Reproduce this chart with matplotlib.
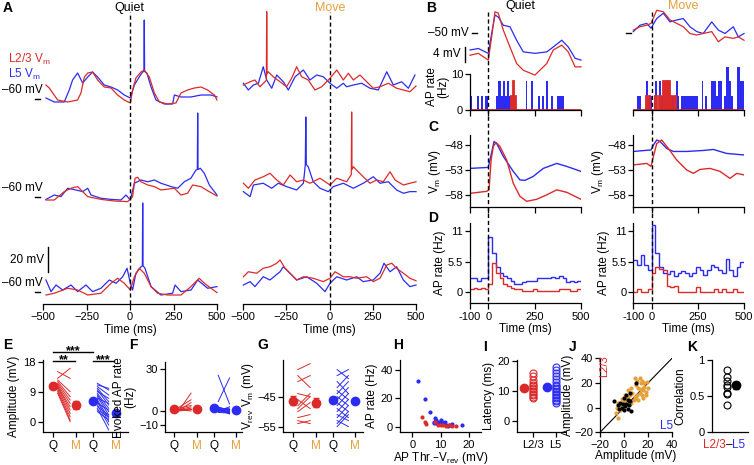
import numpy as np
import matplotlib
matplotlib.use('Agg')
import matplotlib.pyplot as plt
from matplotlib.lines import Line2D
import matplotlib.transforms as mtrans

plt.rcParams['font.family'] = ['Liberation Sans', 'DejaVu Sans']
plt.rcParams['mathtext.default'] = 'regular'
plt.rcParams['font.size'] = 8
plt.rcParams['axes.linewidth'] = 0.9
plt.rcParams['xtick.major.width'] = 0.9
plt.rcParams['ytick.major.width'] = 0.9
plt.rcParams['xtick.major.size'] = 3.5
plt.rcParams['ytick.major.size'] = 3.5
plt.rcParams['xtick.major.pad'] = 2
plt.rcParams['ytick.major.pad'] = 1.5
plt.rcParams['axes.labelsize'] = 8.5
plt.rcParams['axes.labelpad'] = 2

RED = '#dc2a2a'
BLUE = '#2b2bf2'
ORANGE = '#e5a03a'

# ---------------- Panel A traces (time ms, Vm mV) ----------------
q1_red_t = [-483,-464,-444,-416,-358,-301,-282,-262,-243,-215,-186,-148,-109,-71,-33,2,15,34,63,82,111,140,169,216,264,293,331,370,408,446,485,500]
q1_red_v = [-48.8,-51.2,-55.2,-60.8,-62.4,-60.8,-55.2,-42.4,-39.2,-38.4,-44.8,-50.4,-51.2,-56.8,-60.8,-63.2,-52.8,-43.2,-38.4,-36.8,-42.4,-55.2,-62.4,-64,-63.2,-55.2,-52.8,-51.2,-50.4,-52.8,-56.8,-60.8]
q1_blue_t = [-483,-435,-378,-349,-330,-301,-272,-243,-215,-186,-148,-109,-71,-33,2,25,53,72,80,82,84,97,121,149,197,245,255,293,350,408,466,500]
q1_blue_v = [-59.2,-62.4,-62.4,-52.8,-44.8,-39.2,-47.2,-42.4,-38.4,-42.4,-48.8,-50.4,-52.8,-56.8,-59.2,-48.8,-42.4,-38.4,-38.0,3.2,-38.0,-39.2,-50.4,-60.8,-64,-64,-56.8,-58.4,-58.4,-56.8,-56.8,-58.4]

q2_red_t = [-483,-435,-378,-339,-301,-272,-243,-167,-90,-13,15,29,44,63,102,140,178,255,293,331,360,408,446,500]
q2_red_v = [-62.4,-62.4,-55.7,-53,-51.7,-55.7,-59.7,-61.9,-63.2,-63.7,-59.7,-45,-44.2,-47.8,-50.4,-51.7,-54.4,-53,-58.4,-57,-50.4,-51.7,-55,-59.2]
q2_blue_t = [-483,-435,-397,-358,-310,-272,-243,-224,-167,-109,-52,-23,2,25,63,102,140,178,236,274,312,350,379,387,389,391,404,427,456,485,500]
q2_blue_v = [-61.9,-58.4,-59.7,-53,-54.4,-55.7,-53,-58.4,-61,-61.9,-62.4,-58.4,-62.4,-49,-46.4,-47.8,-46.4,-49,-51.7,-53,-47.8,-45,-38.4,-38,7.2,-38,-37,-41,-50.4,-55.7,-58.4]

q3_red_t = [-483,-435,-358,-301,-243,-167,-109,-71,-33,2,25,53,82,121,159,216,293,350,398,427,466,500]
q3_red_v = [-62.4,-61,-57,-58.4,-62.4,-61,-53,-49,-53,-58.4,-47.8,-41,-45,-55.7,-61,-62.4,-62.4,-55.7,-49,-53,-57,-60.5]
q3_blue_t = [-483,-454,-425,-387,-339,-301,-253,-215,-167,-119,-80,-42,-17,2,15,34,63,71,73,75,86,121,178,245,259,293,351,389,446,500]
q3_blue_v = [-50.4,-59.7,-54.4,-58.4,-54.4,-59.7,-54.4,-59.7,-57,-50.4,-53,-47.8,-41,-53,-58.4,-45,-39.8,-39,11.2,-39,-41,-55.7,-62.4,-61,-54.4,-59.7,-58.4,-50.4,-57,-55.7]

m1_red_t = [-498,-459,-431,-402,-373,-365,-363,-361,-354,-325,-286,-248,-219,-190,-161,-123,-84,-45,3,42,80,109,138,176,215,253,292,340,388,427,465,500]
m1_red_v = [-48.8,-46.2,-44.8,-50.2,-46.2,-45,9.9,-40,-38.2,-42.2,-46.2,-50.2,-43.4,-34.2,-42.2,-44.8,-52.8,-50.2,-43.4,-36.8,-44.8,-39.4,-44.8,-40.8,-46.2,-51.4,-50.2,-47.4,-51.4,-52.8,-54.2,-49.6]
m1_blue_t = [-498,-469,-440,-411,-383,-363,-334,-305,-267,-238,-199,-151,-113,-74,-36,3,42,80,99,138,186,234,282,331,369,417,456,494]
m1_blue_v = [-47.4,-52.8,-48.8,-47.4,-34.2,-44.8,-51.4,-40.8,-46.2,-52.8,-42.2,-36.8,-44.8,-40.8,-42.2,-47.4,-51.4,-47.4,-50.2,-48.8,-47.4,-51.4,-52.8,-38.2,-48.8,-46.2,-51.4,-40.8]

m2_red_t = [-498,-469,-431,-383,-344,-305,-267,-228,-190,-151,-113,-55,3,42,99,118,126,128,130,138,166,195,234,273,311,350,379,427,465,500]
m2_red_v = [-49,-53,-46.4,-43.8,-41,-46.4,-50.4,-42.4,-47.8,-46.4,-49,-45,-50.4,-45,-47.8,-43.8,-42,8,-38,-35.8,-39.8,-43.8,-49,-46.4,-47.8,-39.8,-46.4,-50.4,-49,-47.8]
m2_blue_t = [-498,-459,-440,-383,-334,-296,-248,-190,-151,-144,-140,-137,-134,-123,-94,-55,-7,22,80,138,195,253,292,340,388,427,465,500]
m2_blue_v = [-55.7,-59.7,-50.4,-49,-53,-49,-51.7,-54.4,-49,-40,-34.4,4,-34,-35.8,-47.8,-53,-55.7,-51.7,-49,-53,-49,-43.8,-49,-47.8,-54.4,-57,-55.7,-55.7]

m3_red_t = [-498,-469,-421,-383,-344,-305,-286,-257,-228,-190,-151,-94,-36,3,32,80,118,157,215,253,292,331,360,388,427,465,500]
m3_red_v = [-47.8,-43.8,-45,-41,-39.8,-37,-34.4,-41,-45,-50.4,-47.8,-49,-51.7,-49,-43.8,-47.8,-47.8,-49,-47.8,-51.7,-49,-38.4,-37,-41,-45,-49,-51]
m3_blue_t = [-498,-459,-431,-383,-344,-286,-267,-228,-190,-132,-74,-26,3,42,99,157,195,253,292,315,350,388,427,465,500]
m3_blue_v = [-54.4,-51.7,-55.7,-47.8,-50.4,-43.8,-39.8,-45,-50.4,-47.8,-53,-59.7,-53,-47.8,-50.4,-47.8,-51.7,-50.4,-45,-37,-43.8,-39.8,-50.4,-55.7,-54.4]

# ---------------- Panel B ----------------
bq_t = [-100,-55,-1,17,35,53,80,116,152,188,251,315,350,396,431,468,500]
bq_blue = [-54.5,-54.1,-55.4,-50.1,-45.2,-45.7,-47.9,-48.3,-51.9,-55,-55.4,-55,-53.7,-51.9,-53.7,-56.7,-57.2]
bq_red = [-55.9,-55.4,-57.2,-51,-44.3,-44.7,-49.2,-53.7,-58.1,-59.9,-61.2,-58.1,-54.5,-53.2,-55,-59,-59]
bm_t = [-100,-64,-27,-4,27,63,99,135,171,207,244,279,325,361,397,442,469,500]
bm_blue = [-49.6,-47.9,-47.4,-48.7,-46.1,-44.7,-47,-46.5,-46.1,-48.3,-49.6,-50.1,-47,-49.2,-50.1,-48.3,-51,-50.1]
bm_red = [-49.2,-48.3,-47.9,-47.4,-43.9,-44.3,-46.5,-47.4,-48.3,-50.1,-50.5,-50.1,-49.6,-52.3,-51,-51.4,-51,-51.9]

hist_edges = np.arange(-100, 501, 10)
hq_blue = [4,0,0,0,4,0,4,0,4,4, 0,0,0,0,4,8,8,4,8,4, 8,4,0,0,0,0,0,0,0,0,
           8,0,0,8,0,0,0,4,0,4, 0,8,0,0,4,0,0,4,4,4, 4,0,0,0,0,0,0,0,0,0]
hq_red = [0]*22 + [4,8,4] + [0]*35
hm_blue = [0,0,4,4,0,0,0,8,0,4, 0,4,8,0,8,4,4,8,8,0, 4,4,4,8,4,0,4,4,4,4,
           4,4,4,4,4,0,0,8,0,4, 0,0,8,8,8,4,8,8,0,4, 12,12,8,4,0,0,12,12,8,8]
hm_red = [0,0,0,0,0,0,0,4,4,0, 0,0,4,0,4,0,8,8,0,8, 4,0,4,0,0,0,0,0,0,0,
          0,0,0,0,0,0,0,0,0,0, 0,0,0,0,0,0,0,0,0,0, 0,0,0,0,0,0,0,0,0,0]

# ---------------- Panel C ----------------
cq_blue_t = [-100,-1,8,30,44,80,134,170,197,242,296,369,423,500]
cq_blue = [-52.7,-52.5,-51,-47.3,-47.7,-50.3,-53.3,-55,-55.1,-54.3,-52.7,-51.7,-52.3,-53.3]
cq_red_t = [-100,-10,3,14,26,41,62,98,134,170,206,260,315,369,423,500]
cq_red = [-57.7,-57.3,-57,-51,-48.3,-47.5,-48.3,-51,-55.7,-58.3,-59.3,-58.9,-58,-57,-57.5,-58.9]
cm_blue_t = [-100,-4,9,27,45,81,117,189,280,334,406,500]
cm_blue = [-49.3,-49,-48,-47,-47.3,-48.7,-49.3,-49.3,-49.1,-48.9,-49.7,-50]
cm_red_t = [-100,-27,-4,9,27,54,90,135,189,225,262,316,370,424,460,500]
cm_red = [-52,-51.7,-52.3,-50.3,-47.7,-47,-48.7,-51,-53,-53.7,-52.9,-52.7,-53.3,-54.7,-53.7,-54]

# ---------------- Panel D (20 ms bins) ----------------
psth_edges = np.arange(-100, 501, 20)
dq_blue = [2.5,2.5,2.0,2.5,2.5,10,7,4.5,3.5,3.0,2.5,2.0,1.5,1.5,1.8,2.0,2.0,2.0,2.5,2.5,2.5,2.5,2.8,2.5,3.0,2.5,1.8,2.0,1.8,2.0]
dq_red = [0.5,0.8,0.5,0.8,0.5,1.5,5.3,3.5,2.5,1.5,1.2,0.8,0.5,0.5,0.3,0.2,0.3,0.5,0.2,0.3,0.2,0.3,0.3,0.2,0.5,0.5,0.5,0.3,0.2,0.5]
dm_blue = [5.8,4.9,6.7,5.0,4.0,12.1,7.0,4.6,3.5,3.3,3.8,3.0,3.5,3.8,3.5,3.0,3.5,4.5,4.0,3.2,4.0,5.0,4.5,4.0,3.5,6.0,4.0,3.0,4.5,5.5]
dm_red = [0,0.5,0,0,0.5,3.5,4.5,4.2,4.0,1.2,1.0,1.2,0,0,0,0,0,1.0,0,0,0,0,0.5,0,0.5,0,0,0.5,0,0]

# ---------------- Panel E ----------------
grp_labels = ['Q', 'M', 'Q', 'M']
e_mean = [10.7, 5.0, 6.2, 2.5]
e_err = [0.8, 1.2, 0.5, 0.5]
e_red_q = [12.5, 12, 11.5, 11, 10.5, 10.5, 10, 9.5, 9, 8.5, 13, 15]
e_red_m = [9, 7.5, 6.5, 5.5, 4.5, 3.5, 2.5, 1.5, 0.5, 0, 16, 13]
e_blue_q = [11.5, 11, 10.5, 10, 9.5, 9, 8.5, 8, 7.5, 7, 6.5, 6, 5.5, 5, 4.5, 4, 3.5, 3]
e_blue_m = [9.5, 10, 8, 6, 5, 7, 4, 3, 2, 5.5, 1, 0, 3.5, -1, 2, -2.5, 1.5, 0.5]

# ---------------- Panel F ----------------
f_mean = [1.2, 1.5, 2.4, 1.0]
f_err = [0.8, 0.8, 1.0, 0.8]
f_red_q = [0, 0.5, 1, 1.5, 2, 0.5, 1, 0, 2.5]
f_red_m = [12.8, 6, 3, 1.5, 4, 2, 0, 1, 8]
f_blue_q = [6.8, 25.5, 0, 0.5, 1, 1.5, 2, 0, -1, 0.5, 2.5, 1, 3, 0, -0.5]
f_blue_m = [23.6, 5, -1, 0, 2, -2, 0.5, 1, -1.5, -0.5, 1, -2, 0, 3, -1]

# ---------------- Panel G ----------------
g_mean = [-46.4, -47.0, -46.0, -46.4]
g_err = [1.5, 1.5, 0.7, 0.7]
g_red_q = [-54, -52, -50, -48, -46, -44, -40, -38, -36, -53, -49]
g_red_m = [-53, -51, -47, -44, -49, -45, -38, -42, -34, -54, -45]
g_blue_q = [-54, -53, -52, -51, -50, -49, -48, -47, -46, -45, -44, -43, -42, -40, -38, -36, -55]
g_blue_m = [-50, -55, -48, -53, -46, -52, -44, -50, -42, -48, -40, -46, -38, -44, -36, -39, -51]

# ---------------- Panel H ----------------
h_blue_x = [1.9, 4.5, 6.3, 8.0, 8.5, 7.8, 8.3, 9.0, 9.5, 10.0, 10.5, 11.0, 11.5, 12.0, 13.0, 13.5, 14.0, 17.5, 7.5, 12.5]
h_blue_y = [32.3, 19.4, 10.6, 6.0, 5.0, 3.0, 2.5, 2.0, 3.0, 5.0, 3.0, 2.0, 3.0, 1.5, 1.0, 1.5, 2.0, 1.5, 2.5, 0.5]
h_red_x = [3.5, 4.5, 4.9, 8.0, 9.0, 10.0, 11.0, 12.0, 13.0, 14.0, 15.5]
h_red_y = [7.1, 3.0, 1.9, 3.0, 1.5, 1.0, 1.0, 0.5, 1.0, 0.5, 0.5]

# ---------------- Panel I ----------------
i_mean = [11.0, 11.3]
i_err = [0.5, 0.5]
i_red = [7.5, 8, 8.5, 9, 9.5, 10, 10.5, 11, 11.5, 12, 12.5, 13.5, 15, 15.8]
i_blue = [6, 6.5, 7, 7.5, 8, 8.5, 9, 9.5, 10, 10.5, 11, 11.5, 12, 13, 14, 15, 16, 17, 18]

# ---------------- Panel J ----------------
j_or_x = [9,11,13,15,17,10,12,14,16,18,20,13,15,11,9,7,5,3,1,-1,-3,-5,-3,-7,-5,0,2,4,6,8,10,12,16,18,14,19,3,6,-6,-2,1,17]
j_or_y = [24,22,24,22,20,18,16,15,14,13,16,12,10,10,9,12,10,8,6,4,2,4,-2,-4,-8,5,3,6,4,6,8,6,8,10,20,21,14,16,0,7,10,17]
j_bk_x = [10,-8,-5,-3,-2,0,1,2,3,4,5,6,-1,3,2,5,-4,0]
j_bk_y = [20,5,2,4,0,-2,1,3,-1,2,5,-3,3,6,10,12,-1,8]

# ---------------- Panel K ----------------
k_vals = [0.38, 0.53, 0.55, 0.62, 0.66, 0.71, 0.77, 0.86]
k_mean = 0.65
k_err = 0.05

# ================= Figure =================
W, H = 754, 465
fig = plt.figure(figsize=(W / 100, H / 100), dpi=100)


def add_ax(x0, y0, x1, y1):
    return fig.add_axes([x0 / W, 1 - y1 / H, (x1 - x0) / W, (y1 - y0) / H])


def ftext(x, y, s, **kw):
    return fig.text(x / W, 1 - y / H, s, **kw)


def style(ax, left=True):
    ax.spines['top'].set_visible(False)
    ax.spines['right'].set_visible(False)
    if not left:
        ax.spines['left'].set_visible(False)
        ax.tick_params(left=False, labelleft=False)
    ax.patch.set_alpha(0)


DASH = (0, (3, 2))

# ---- Panel A ----
A_ROW_BASE = [164.0, 85.6, 9.6]
quiet_rows = [(q1_red_t, q1_red_v, q1_blue_t, q1_blue_v),
              (q2_red_t, q2_red_v, q2_blue_t, q2_blue_v),
              (q3_red_t, q3_red_v, q3_blue_t, q3_blue_v)]
move_rows = [(m1_red_t, m1_red_v, m1_blue_t, m1_blue_v),
             (m2_red_t, m2_red_v, m2_blue_t, m2_blue_v),
             (m3_red_t, m3_red_v, m3_blue_t, m3_blue_v)]
for (x0, x1, rows, first) in [(43, 217, quiet_rows, True), (243, 416, move_rows, False)]:
    ax = add_ax(x0, 0, x1, 304)
    ax.set_xlim(-500, 500)
    ax.set_ylim(0, 243.2)
    style(ax, left=False)
    for base, (rt, rv, bt, bv) in zip(A_ROW_BASE, rows):
        ax.plot(bt, np.array(bv) + 60 + base, color=BLUE, lw=0.9, clip_on=False)
        ax.plot(rt, np.array(rv) + 60 + base, color=RED, lw=0.9, clip_on=False)
    ax.axvline(0, ymin=0, ymax=233.6 / 243.2, color='k', lw=1, ls=DASH)
    ax.set_xticks([-500, -250, 0, 250, 500])
    ax.set_xlabel('Time (ms)', labelpad=1)
    ax.tick_params(axis='x', length=4)
    if first:
        bl = mtrans.blended_transform_factory(ax.transAxes, ax.transData)
        for base in A_ROW_BASE:
            ax.text(0.0, base + 2.4, '\u201360 mV', transform=bl, ha='right', va='bottom', fontsize=8.5)
            ax.plot([-0.046, -0.017], [base, base], transform=bl, color='k', lw=1, clip_on=False)
        sb_t, sb_y0, SCALE_A = -471, 25.6, 20
        ax.plot([sb_t, sb_t], [sb_y0, sb_y0 + SCALE_A], color='k', lw=1, clip_on=False)
        ax.text(-494, sb_y0 + SCALE_A / 2, '20 mV', ha='right', va='center', fontsize=8.5)

ftext(129, 8, 'Quiet', ha='center', va='center', fontsize=9)
ftext(330, 8, 'Move', ha='center', va='center', fontsize=9, color=ORANGE)
ftext(8, 59, 'L2/3 V$_m$', ha='left', va='center', fontsize=8.5, color=RED)
ftext(8, 74.5, 'L5 V$_m$', ha='left', va='center', fontsize=8.5, color=BLUE)

# ---- Panels B, C, D ----
cols = [(470, 581, bq_t, bq_red, bq_blue, hq_red, hq_blue, cq_red_t, cq_red, cq_blue_t, cq_blue, dq_red, dq_blue, True),
        (633.3, 744, bm_t, bm_red, bm_blue, hm_red, hm_blue, cm_red_t, cm_red, cm_blue_t, cm_blue, dm_red, dm_blue, False)]
for (x0, x1, bt, br, bb, hr, hb, crt, cr, cbt, cb, dr, db, first) in cols:
    # Vm
    axv = add_ax(x0, 8, x1, 78)
    axv.set_xlim(-100, 500)
    axv.set_ylim(-61.97, -43.3)
    axv.axis('off')
    axv.plot(bt, bb, color=BLUE, lw=0.9, clip_on=False)
    axv.plot(bt, br, color=RED, lw=0.9, clip_on=False)
    bl = mtrans.blended_transform_factory(axv.transAxes, axv.transData)
    pxw = x1 - x0
    axv.plot([-(x0 - 472 if first else x0 - 626) / pxw, -(x0 - 477 if first else x0 - 631) / pxw],
             [-50, -50], transform=bl, color='k', lw=1, clip_on=False)
    if first:
        axv.text(-(470 - 469) / pxw, -50, '\u201350 mV', transform=bl, ha='right', va='center', fontsize=8.5)
        SCALE_B = 4
        axv.plot([-5 / pxw, -5 / pxw], [-57.7, -57.7 + SCALE_B], transform=bl, color='k', lw=1, clip_on=False)
        axv.text(-9 / pxw, -55.7, '4 mV', transform=bl, ha='right', va='center', fontsize=8.5)
    # AP rate histogram
    axh = add_ax(x0, 64, x1, 110)
    axh.set_xlim(-100, 500)
    axh.set_ylim(0, 12.8)
    style(axh, left=first)
    axh.stairs(hb, hist_edges, fill=True, color=BLUE, lw=0)
    axh.stairs(hr, hist_edges, fill=True, color=RED, lw=0)
    axh.stairs(hr, hist_edges, color=RED, lw=1.3)
    axh.set_xticks([-100, 0, 250, 500])
    axh.tick_params(axis='x', labelbottom=False, length=4)
    if first:
        axh.spines['left'].set_bounds(0, 10)
        axh.set_yticks([0, 10])
        axh.set_ylabel('AP rate\n(Hz)', linespacing=0.9, labelpad=1)
    # C
    axc = add_ax(x0, 135, x1, 207.3)
    axc.set_xlim(-100, 500)
    axc.set_ylim(-60.5, -46)
    style(axc)
    axc.plot(cbt, cb, color=BLUE, lw=1.0)
    axc.plot(crt, cr, color=RED, lw=1.0)
    axc.set_xticks([-100, 0, 250, 500])
    axc.tick_params(axis='x', labelbottom=False, length=4)
    axc.set_yticks([-58, -53, -48])
    axc.set_ylabel('V$_m$ (mV)', labelpad=1)
    # D
    axd = add_ax(x0, 223, x1, 303.3)
    axd.set_xlim(-100, 500)
    axd.set_ylim(-2, 12.5)
    style(axd)
    axd.stairs(db, psth_edges, color=BLUE, lw=1.0, baseline=None)
    axd.stairs(dr, psth_edges, color=RED, lw=1.0, baseline=None)
    axd.set_xticks([-100, 0, 250, 500])
    axd.set_xticklabels(['-100', '0', '250', '500'])
    axd.tick_params(axis='x', length=4)
    axd.set_yticks([0, 5.5, 11])
    axd.set_yticklabels(['0', '5.5', '11'])
    axd.set_xlabel('Time (ms)', labelpad=1)
    axd.set_ylabel('AP rate (Hz)', labelpad=1)
    # dashed line across B-D at t=0
    xz = axd.transData.transform((0, 0))[0] / W
    fig.add_artist(Line2D([xz, xz], [1 - 12 / H, 1 - 303.3 / H], transform=fig.transFigure,
                          color='k', lw=1, ls=DASH))

ftext(520, 6, 'Quiet', ha='center', va='center', fontsize=9)
ftext(683, 6, 'Move', ha='center', va='center', fontsize=9, color=ORANGE)

# ---- Bottom panels ----
POS = [0, 1, 1.75, 2.75]


def pair_panel(ax, mean, err, rq, rm, bq, bm):
    for a, b in zip(rq, rm):
        ax.plot([0.2, 0.75], [a, b], color=RED, lw=0.7)
    for a, b in zip(bq, bm):
        ax.plot([1.95, 2.45], [a, b], color=BLUE, lw=0.7)
    cols_ = [RED, RED, BLUE, BLUE]
    for p, m, e, c in zip(POS, mean, err, cols_):
        ax.errorbar(p, m, yerr=e, fmt='o', color=c, ms=6, capsize=2.5, elinewidth=1, capthick=1)
    ax.set_xticks(POS)
    ax.set_xticklabels(grp_labels)
    for lab, c in zip(ax.get_xticklabels(), ['k', ORANGE, 'k', ORANGE]):
        lab.set_color(c)
        lab.set_fontsize(8.5)


# E
axE = add_ax(42.7, 360, 128, 432.3)
style(axE)
axE.set_xlim(-0.46, 3.3)
axE.set_ylim(-3.2, 18.5)
pair_panel(axE, e_mean, e_err, e_red_q, e_red_m, e_blue_q, e_blue_m)
axE.set_yticks([0, 9, 18])
axE.set_ylabel('Amplitude (mV)')
for (xa, xb, yy, s) in [(POS[0], POS[2], 20.9, '***'), (POS[0], 0.95, 18.2, '**'), (POS[2], POS[3] - 0.05, 18.2, '***')]:
    axE.plot([xa, xb], [yy, yy], color='k', lw=1, clip_on=False)
    axE.text((xa + xb) / 2, yy + 0.3, s, ha='center', va='center', fontsize=9, fontweight='bold')

# F
axF = add_ax(165, 362, 242, 432.3)
style(axF)
axF.set_xlim(-0.4, 3.0)
axF.set_ylim(-15.2, 35)
pair_panel(axF, f_mean, f_err, f_red_q, f_red_m, f_blue_q, f_blue_m)
axF.set_yticks([-10, 0, 30])
axF.set_ylabel('Evoked AP rate\n(Hz)', linespacing=0.9)

# G
axG = add_ax(282.7, 360, 363, 432.3)
style(axG)
axG.set_xlim(-0.47, 3.1)
axG.set_ylim(-56.9, -32.8)
pair_panel(axG, g_mean, g_err, g_red_q, g_red_m, g_blue_q, g_blue_m)
axG.set_yticks([-55, -45])
axG.set_ylabel('V$_{rev}$ V$_m$ (mV)', labelpad=1)

# H
axH = add_ax(400, 360, 480.7, 432.3)
style(axH)
axH.set_xlim(-4.4, 24.2)
axH.set_ylim(-4, 47)
axH.scatter(h_blue_x, h_blue_y, s=9, color=BLUE, lw=0)
axH.scatter(h_red_x, h_red_y, s=9, color=RED, lw=0)
axH.set_xticks([0, 10, 20])
axH.set_yticks([0, 20, 40])
axH.set_xlabel('AP Thr.\u2013V$_{rev}$ (mV)', labelpad=0)
axH.set_ylabel('AP rate (Hz)')

# I
axI = add_ax(516.7, 360, 565, 432.3)
style(axI)
I_POS = [0, 1, 2.49, 3.49]
axI.set_xlim(-0.84, 4.52)
axI.set_ylim(-3.9, 20.2)
axI.errorbar(I_POS[0], i_mean[0], yerr=i_err[0], fmt='o', color=RED, ms=6, capsize=2)
axI.errorbar(I_POS[2], i_mean[1], yerr=i_err[1], fmt='o', color=BLUE, ms=6, capsize=2)
axI.plot([I_POS[1]] * len(i_red), i_red, 'o', mfc='none', mec=RED, ms=5, mew=0.8, ls='none')
axI.plot([I_POS[3]] * len(i_blue), i_blue, 'o', mfc='none', mec=BLUE, ms=5, mew=0.8, ls='none')
axI.set_xticks([I_POS[1], I_POS[3]])
axI.set_xticklabels(['L2/3', 'L5'])
axI.set_yticks([0, 10, 20])
axI.set_ylabel('Latency (ms)')

# J
axJ = add_ax(600, 358.3, 672, 432.3)
style(axJ)
axJ.set_xlim(-20, 40)
axJ.set_ylim(-20, 40)
axJ.axline((0, 0), slope=1, color='k', lw=0.8)
axJ.scatter(j_or_x, j_or_y, s=9, color=ORANGE, lw=0, zorder=3)
axJ.scatter(j_bk_x, j_bk_y, s=9, color='k', lw=0, zorder=3)
axJ.set_xticks([-20, 0, 20, 40])
axJ.set_yticks([-20, 0, 20, 40])
axJ.set_xlabel('Amplitude (mV)', labelpad=0)
axJ.set_ylabel('Amplitude (mV)', labelpad=0)
axJ.text(0.06, 0.9, 'L2/3', transform=axJ.transAxes, rotation=90, color=RED, ha='center', va='center', fontsize=8)
axJ.text(0.93, 0.08, 'L5', transform=axJ.transAxes, color=BLUE, ha='center', va='center', fontsize=8.5)

# K
axK = add_ax(711.7, 360, 748, 432.3)
style(axK)
axK.set_xlim(-1.67, 2.37)
axK.set_ylim(0, 1.0)
axK.plot([0] * len(k_vals), k_vals, 'o', mfc='none', mec='k', ms=5, mew=0.8, ls='none')
axK.errorbar(1, k_mean, yerr=k_err, fmt='o', color='k', ms=6, capsize=2)
axK.set_xticks([])
axK.set_yticks([0, 0.5, 1])
axK.set_yticklabels(['0', '0.5', '1'])
axK.set_ylabel('Correlation')
blK = mtrans.blended_transform_factory(axK.transData, axK.transAxes)
ky = -0.18
axK.text(0.26, ky, '\u2013', transform=blK, ha='center', va='center', fontsize=8.5)
axK.text(0.26, ky, 'L2/3', transform=mtrans.offset_copy(blK, fig=fig, x=-3.2, y=0, units='dots'),
         ha='right', va='center', fontsize=8.5, color=RED)
axK.text(0.26, ky, 'L5', transform=mtrans.offset_copy(blK, fig=fig, x=3.2, y=0, units='dots'),
         ha='left', va='center', fontsize=8.5, color=BLUE)

# Panel letters
for (x, y, s) in [(8, 8, 'A'), (431, 8, 'B'), (433, 127, 'C'), (433, 218, 'D'),
                  (8, 345, 'E'), (133, 345, 'F'), (263, 345, 'G'), (398, 345, 'H'),
                  (485, 347, 'I'), (573, 347, 'J'), (692, 347, 'K')]:
    ftext(x, y, s, ha='center', va='center', fontsize=10, fontweight='bold')

fig.savefig('out.png', dpi=100)
